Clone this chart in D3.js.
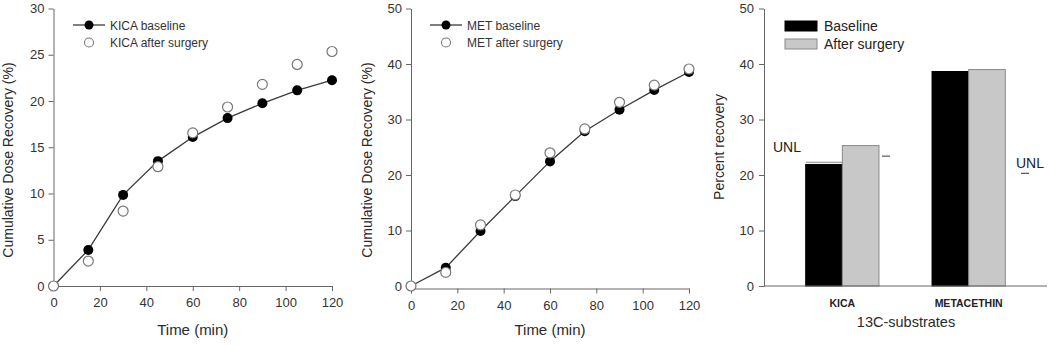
<!DOCTYPE html>
<html>
<head>
<meta charset="utf-8">
<script src="https://cdn.jsdelivr.net/npm/d3@7/dist/d3.min.js"></script>
<style>
  body { margin: 0; background: #fff; }
  svg { display: block; font-family: 'Liberation Sans', Arial, sans-serif; }
  .axis path, .axis line { stroke: #666; }
  .axis text { fill: #333; font-size: 13px; font-family: 'Liberation Sans', Arial, sans-serif; }
</style>
</head>
<body>
<div id="cnt"></div>
<script>
const times = [0, 15, 30, 45, 60, 75, 90, 105, 120]
const kicaBaseline = [0, 3.9, 9.85, 13.5, 16.1, 18.15, 19.75, 21.15, 22.25]
const kicaAfter = [0, 2.7, 8.1, 12.9, 16.55, 19.35, 21.8, 23.95, 25.35]
const metBaseline = [0, 3.3, 9.9, 16.2, 22.45, 27.9, 31.75, 35.3, 38.55]
const metAfter = [0, 2.45, 11.0, 16.4, 24.0, 28.3, 33.1, 36.2, 39.1]

const substrates = ['KICA', 'METACETHIN']
const barGroups = ['Baseline', 'After surgery']
const barBaseline = [21.9, 38.65]
const barAfter = [25.3, 39.0]
const baselineCap = [22.3, null]
const unl = [23.4, 20.3]

const lineColor = '#3a3a3a'
const axisTitleColor = '#2a2a2a'

const svg = d3.select('#cnt')
    .append('svg')
    .attr('width', 1048)
    .attr('height', 345)

function drawLinePanel(opts) {
    const x = d3.scaleLinear().domain([0, 120]).range(opts.xRange)
    const y = d3.scaleLinear().domain([0, opts.yMax]).range([286, 8.5])
    const g = svg.append('g')

    g.append('g')
        .attr('class', 'axis')
        .attr('transform', `translate(0, ${opts.xAxisY})`)
        .call(d3.axisBottom(x).tickValues(d3.range(0, 121, 20)).tickSize(5).tickPadding(7).tickSizeOuter(0))

    g.append('g')
        .attr('class', 'axis')
        .attr('transform', `translate(${opts.xRange[0]}, 0)`)
        .call(d3.axisLeft(y).ticks(opts.yMax / opts.yStep).tickSize(5).tickPadding(4).tickSizeOuter(0))

    const line = d3.line()
        .x((d, i) => x(times[i]))
        .y(d => y(d))

    g.append('path')
        .datum(opts.baseline)
        .attr('d', line)
        .attr('fill', 'none')
        .attr('stroke', lineColor)
        .attr('stroke-width', 1.3)

    g.selectAll('.base')
        .data(opts.baseline)
        .join('circle')
        .attr('cx', (d, i) => x(times[i]))
        .attr('cy', d => y(d))
        .attr('r', 5)
        .attr('fill', '#000')

    g.selectAll('.after')
        .data(opts.after)
        .join('circle')
        .attr('cx', (d, i) => x(times[i]))
        .attr('cy', d => y(d))
        .attr('r', 5)
        .attr('fill', '#fff')
        .attr('stroke', '#777')
        .attr('stroke-width', 1.2)

    // legend
    const lx = opts.legendX
    g.append('line')
        .attr('x1', lx).attr('x2', lx + 32)
        .attr('y1', 25).attr('y2', 25)
        .attr('stroke', lineColor).attr('stroke-width', 1.3)
    g.append('circle')
        .attr('cx', lx + 16).attr('cy', 25).attr('r', 4.5).attr('fill', '#000')
    g.append('circle')
        .attr('cx', lx + 16).attr('cy', 42.5).attr('r', 4.5)
        .attr('fill', '#fff').attr('stroke', '#777').attr('stroke-width', 1.1)
    g.append('text')
        .attr('x', lx + 37).attr('y', 29.5)
        .attr('font-size', 12).attr('fill', '#333')
        .text(opts.names[0])
    g.append('text')
        .attr('x', lx + 37).attr('y', 47)
        .attr('font-size', 12).attr('fill', '#333')
        .text(opts.names[1])

    g.append('text')
        .attr('x', (opts.xRange[0] + opts.xRange[1]) / 2)
        .attr('y', 335)
        .attr('text-anchor', 'middle')
        .attr('font-size', 15)
        .attr('fill', axisTitleColor)
        .text('Time (min)')

    g.append('text')
        .attr('transform', `translate(${opts.yTitleX}, 160) rotate(-90)`)
        .attr('text-anchor', 'middle')
        .attr('font-size', 14)
        .attr('fill', axisTitleColor)
        .text('Cumulative Dose Recovery (%)')
}

drawLinePanel({
    xRange: [53.5, 332], xAxisY: 286, yMax: 30, yStep: 5,
    baseline: kicaBaseline, after: kicaAfter,
    names: ['KICA baseline', 'KICA after surgery'],
    legendX: 73, yTitleX: 13
})

drawLinePanel({
    xRange: [411, 689], xAxisY: 288.5, yMax: 50, yStep: 10,
    baseline: metBaseline, after: metAfter,
    names: ['MET baseline', 'MET after surgery'],
    legendX: 430, yTitleX: 372
})

// bar panel
const barY = d3.scaleLinear().domain([0, 50]).range([286, 8.5])
const x0 = d3.scaleBand().domain(substrates).range([764, 1047]).paddingInner(0.42).paddingOuter(0.33)
const x1 = d3.scaleBand().domain(barGroups).range([0, x0.bandwidth()])
const barFill = { 'Baseline': '#000', 'After surgery': '#c8c8c8' }
const barStroke = { 'Baseline': '#000', 'After surgery': '#8a8a8a' }

const gb = svg.append('g')

gb.append('g')
    .attr('class', 'axis')
    .attr('transform', 'translate(764, 0)')
    .call(d3.axisLeft(barY).ticks(5).tickSize(5).tickPadding(5).tickSizeOuter(0))

const barData = substrates.flatMap((s, i) => [
    { s, grp: 'Baseline', v: barBaseline[i] },
    { s, grp: 'After surgery', v: barAfter[i] }
])

gb.selectAll('.bar')
    .data(barData)
    .join('rect')
    .attr('x', d => x0(d.s) + x1(d.grp))
    .attr('y', d => barY(d.v))
    .attr('width', x1.bandwidth())
    .attr('height', d => barY(0) - barY(d.v))
    .attr('fill', d => barFill[d.grp])
    .attr('stroke', d => barStroke[d.grp])
    .attr('stroke-width', 1)

substrates.forEach((s, i) => {
    if (baselineCap[i] == null) return
    gb.append('line')
        .attr('x1', x0(s) + x1('Baseline'))
        .attr('x2', x0(s) + x1('Baseline') + x1.bandwidth())
        .attr('y1', barY(baselineCap[i]))
        .attr('y2', barY(baselineCap[i]))
        .attr('stroke', '#888')
        .attr('stroke-width', 1)
})

// x axis line for the bars
gb.append('line')
    .attr('x1', 764).attr('x2', 1047)
    .attr('y1', 286).attr('y2', 286)
    .attr('stroke', '#666')

gb.selectAll('.cat')
    .data(substrates)
    .join('text')
    .attr('x', d => x0(d) + x0.bandwidth() / 2)
    .attr('y', 307)
    .attr('text-anchor', 'middle')
    .attr('font-size', 10.5)
    .attr('font-weight', 'bold')
    .attr('fill', '#222')
    .text(d => d)

// UNL marks
const unlDashX = [886, 1025]
const unlTextX = [787, 1030]
const unlTextY = [152, 168]
substrates.forEach((s, i) => {
    gb.append('line')
        .attr('x1', unlDashX[i] - 4).attr('x2', unlDashX[i] + 4)
        .attr('y1', barY(unl[i])).attr('y2', barY(unl[i]))
        .attr('stroke', '#555').attr('stroke-width', 1.2)
    gb.append('text')
        .attr('x', unlTextX[i]).attr('y', unlTextY[i])
        .attr('text-anchor', 'middle')
        .attr('font-size', 14)
        .attr('fill', '#222')
        .text('UNL')
})

// bar legend
barGroups.forEach((grp, i) => {
    gb.append('rect')
        .attr('x', 785).attr('y', 21 + i * 18)
        .attr('width', 32).attr('height', 10)
        .attr('fill', barFill[grp]).attr('stroke', barStroke[grp])
    gb.append('text')
        .attr('x', 824).attr('y', 31 + i * 18)
        .attr('font-size', 14).attr('fill', '#222')
        .text(grp)
})

gb.append('text')
    .attr('x', 906).attr('y', 327)
    .attr('text-anchor', 'middle')
    .attr('font-size', 14.5)
    .attr('fill', axisTitleColor)
    .text('13C-substrates')

gb.append('text')
    .attr('transform', 'translate(724, 147) rotate(-90)')
    .attr('text-anchor', 'middle')
    .attr('font-size', 14)
    .attr('fill', axisTitleColor)
    .text('Percent recovery')
</script>
</body>
</html>
